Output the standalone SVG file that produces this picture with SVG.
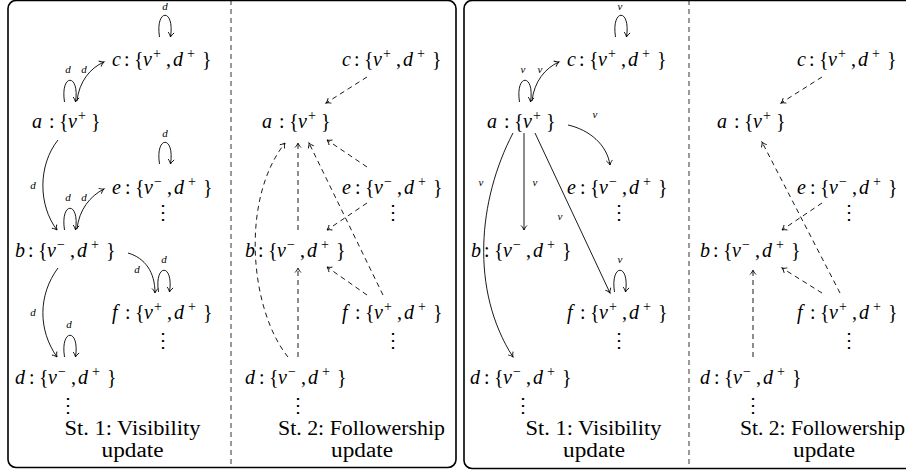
<svg xmlns="http://www.w3.org/2000/svg" width="906" height="474" viewBox="0 0 906 474" font-family="Liberation Serif, Times New Roman, serif">
<style>
.m{font-size:20px;fill:#000}
.i{font-style:italic}
.sp{font-size:14px}
.lbl{font-style:italic;font-size:11px;text-anchor:middle;fill:#000}
.cap{font-size:20px;text-anchor:middle;fill:#000}
.vd{font-size:20px;text-anchor:middle;fill:#000}
.e{fill:none;stroke:#000;stroke-width:0.9;marker-end:url(#arr)}
.dash{stroke-dasharray:5 4}
.frame{fill:none;stroke:#000;stroke-width:1.6}
.sep{stroke:#000;stroke-width:0.8;stroke-dasharray:5 4}
</style>
<defs>
<marker id="arr" viewBox="-6 -4 8 8" refX="0" refY="0" markerWidth="8" markerHeight="8" orient="auto" markerUnits="userSpaceOnUse">
<path d="M-4.5,-3 C-3,-1.5 -1,-0.3 0,0 C-1,0.3 -3,1.5 -4.5,3" fill="none" stroke="#000" stroke-width="0.9" stroke-dasharray="none"/>
</marker>
</defs>

<rect class="frame" x="8" y="0.5" width="448" height="467" rx="8"/>
<rect class="frame" x="464" y="0.5" width="470" height="468" rx="8"/>
<line class="sep" x1="231" y1="0" x2="231" y2="468"/>
<line class="sep" x1="689" y1="0" x2="689" y2="468"/>

<!-- Panel L1 -->
<g id="L1-c"><text class="m" y="66"><tspan class="i" x="112">c</tspan><tspan x="124">:</tspan><tspan x="134">{</tspan><tspan class="i" x="143">v</tspan><tspan class="sp" x="153" y="58">+</tspan><tspan x="166" y="66">,</tspan><tspan class="i" x="173">d</tspan><tspan class="sp" x="187" y="58">+</tspan><tspan x="202" y="66">}</tspan></text></g>
<g id="L1-a"><text class="m" y="128"><tspan class="i" x="32">a</tspan><tspan x="49">:</tspan><tspan x="59">{</tspan><tspan class="i" x="68">v</tspan><tspan class="sp" x="78" y="120">+</tspan><tspan x="91" y="128">}</tspan></text></g>
<g id="L1-e"><text class="m" y="194"><tspan class="i" x="112">e</tspan><tspan x="125">:</tspan><tspan x="135">{</tspan><tspan class="i" x="144">v</tspan><tspan class="sp" x="154" y="186">−</tspan><tspan x="167" y="194">,</tspan><tspan class="i" x="174">d</tspan><tspan class="sp" x="188" y="186">+</tspan><tspan x="203" y="194">}</tspan></text><text class="vd" x="163" y="219">⋮</text></g>
<g id="L1-b"><text class="m" y="257"><tspan class="i" x="15">b</tspan><tspan x="28">:</tspan><tspan x="38">{</tspan><tspan class="i" x="47">v</tspan><tspan class="sp" x="57" y="249">−</tspan><tspan x="70" y="257">,</tspan><tspan class="i" x="77">d</tspan><tspan class="sp" x="91" y="249">+</tspan><tspan x="106" y="257">}</tspan></text></g>
<g id="L1-f"><text class="m" y="319"><tspan class="i" x="112">f</tspan><tspan x="125">:</tspan><tspan x="135">{</tspan><tspan class="i" x="144">v</tspan><tspan class="sp" x="154" y="311">+</tspan><tspan x="167" y="319">,</tspan><tspan class="i" x="174">d</tspan><tspan class="sp" x="188" y="311">+</tspan><tspan x="203" y="319">}</tspan></text><text class="vd" x="163" y="347">⋮</text></g>
<g id="L1-d"><text class="m" y="384"><tspan class="i" x="15">d</tspan><tspan x="29">:</tspan><tspan x="39">{</tspan><tspan class="i" x="48">v</tspan><tspan class="sp" x="58" y="376">−</tspan><tspan x="71" y="384">,</tspan><tspan class="i" x="78">d</tspan><tspan class="sp" x="92" y="376">+</tspan><tspan x="107" y="384">}</tspan></text><text class="vd" x="68" y="412">⋮</text></g>
<g id="L1-caption"><text class="cap" x="132.5" y="435" textLength="136" lengthAdjust="spacingAndGlyphs">St. 1: Visibility</text><text class="cap" x="132.5" y="457" textLength="62" lengthAdjust="spacingAndGlyphs">update</text></g>

<!-- Panel L2 -->
<g id="L2-c"><text class="m" y="66"><tspan class="i" x="342">c</tspan><tspan x="354">:</tspan><tspan x="364">{</tspan><tspan class="i" x="373">v</tspan><tspan class="sp" x="383" y="58">+</tspan><tspan x="396" y="66">,</tspan><tspan class="i" x="403">d</tspan><tspan class="sp" x="417" y="58">+</tspan><tspan x="432" y="66">}</tspan></text></g>
<g id="L2-a"><text class="m" y="128"><tspan class="i" x="262">a</tspan><tspan x="279">:</tspan><tspan x="289">{</tspan><tspan class="i" x="298">v</tspan><tspan class="sp" x="308" y="120">+</tspan><tspan x="321" y="128">}</tspan></text></g>
<g id="L2-e"><text class="m" y="194"><tspan class="i" x="342">e</tspan><tspan x="355">:</tspan><tspan x="365">{</tspan><tspan class="i" x="374">v</tspan><tspan class="sp" x="384" y="186">−</tspan><tspan x="397" y="194">,</tspan><tspan class="i" x="404">d</tspan><tspan class="sp" x="418" y="186">+</tspan><tspan x="433" y="194">}</tspan></text><text class="vd" x="393" y="219">⋮</text></g>
<g id="L2-b"><text class="m" y="257"><tspan class="i" x="245">b</tspan><tspan x="258">:</tspan><tspan x="268">{</tspan><tspan class="i" x="277">v</tspan><tspan class="sp" x="287" y="249">−</tspan><tspan x="300" y="257">,</tspan><tspan class="i" x="307">d</tspan><tspan class="sp" x="321" y="249">+</tspan><tspan x="336" y="257">}</tspan></text></g>
<g id="L2-f"><text class="m" y="319"><tspan class="i" x="342">f</tspan><tspan x="355">:</tspan><tspan x="365">{</tspan><tspan class="i" x="374">v</tspan><tspan class="sp" x="384" y="311">+</tspan><tspan x="397" y="319">,</tspan><tspan class="i" x="404">d</tspan><tspan class="sp" x="418" y="311">+</tspan><tspan x="433" y="319">}</tspan></text><text class="vd" x="393" y="347">⋮</text></g>
<g id="L2-d"><text class="m" y="384"><tspan class="i" x="245">d</tspan><tspan x="259">:</tspan><tspan x="269">{</tspan><tspan class="i" x="278">v</tspan><tspan class="sp" x="288" y="376">−</tspan><tspan x="301" y="384">,</tspan><tspan class="i" x="308">d</tspan><tspan class="sp" x="322" y="376">+</tspan><tspan x="337" y="384">}</tspan></text><text class="vd" x="298" y="412">⋮</text></g>
<g id="L2-caption"><text class="cap" x="361.5" y="435" textLength="167" lengthAdjust="spacingAndGlyphs">St. 2: Followership</text><text class="cap" x="362" y="457" textLength="62" lengthAdjust="spacingAndGlyphs">update</text></g>

<!-- Panel R1 -->
<g id="R1-c"><text class="m" y="66"><tspan class="i" x="567">c</tspan><tspan x="579">:</tspan><tspan x="589">{</tspan><tspan class="i" x="598">v</tspan><tspan class="sp" x="608" y="58">+</tspan><tspan x="621" y="66">,</tspan><tspan class="i" x="628">d</tspan><tspan class="sp" x="642" y="58">+</tspan><tspan x="657" y="66">}</tspan></text></g>
<g id="R1-a"><text class="m" y="128"><tspan class="i" x="487">a</tspan><tspan x="504">:</tspan><tspan x="514">{</tspan><tspan class="i" x="523">v</tspan><tspan class="sp" x="533" y="120">+</tspan><tspan x="546" y="128">}</tspan></text></g>
<g id="R1-e"><text class="m" y="194"><tspan class="i" x="567">e</tspan><tspan x="580">:</tspan><tspan x="590">{</tspan><tspan class="i" x="599">v</tspan><tspan class="sp" x="609" y="186">−</tspan><tspan x="622" y="194">,</tspan><tspan class="i" x="629">d</tspan><tspan class="sp" x="643" y="186">+</tspan><tspan x="658" y="194">}</tspan></text><text class="vd" x="619" y="219">⋮</text></g>
<g id="R1-b"><text class="m" y="257"><tspan class="i" x="471">b</tspan><tspan x="484">:</tspan><tspan x="494">{</tspan><tspan class="i" x="503">v</tspan><tspan class="sp" x="513" y="249">−</tspan><tspan x="526" y="257">,</tspan><tspan class="i" x="533">d</tspan><tspan class="sp" x="547" y="249">+</tspan><tspan x="562" y="257">}</tspan></text></g>
<g id="R1-f"><text class="m" y="319"><tspan class="i" x="567">f</tspan><tspan x="580">:</tspan><tspan x="590">{</tspan><tspan class="i" x="599">v</tspan><tspan class="sp" x="609" y="311">+</tspan><tspan x="622" y="319">,</tspan><tspan class="i" x="629">d</tspan><tspan class="sp" x="643" y="311">+</tspan><tspan x="658" y="319">}</tspan></text><text class="vd" x="619" y="347">⋮</text></g>
<g id="R1-d"><text class="m" y="384"><tspan class="i" x="470">d</tspan><tspan x="484">:</tspan><tspan x="494">{</tspan><tspan class="i" x="503">v</tspan><tspan class="sp" x="513" y="376">−</tspan><tspan x="526" y="384">,</tspan><tspan class="i" x="533">d</tspan><tspan class="sp" x="547" y="376">+</tspan><tspan x="562" y="384">}</tspan></text><text class="vd" x="523" y="412">⋮</text></g>
<g id="R1-caption"><text class="cap" x="593.5" y="435" textLength="136" lengthAdjust="spacingAndGlyphs">St. 1: Visibility</text><text class="cap" x="594" y="457" textLength="62" lengthAdjust="spacingAndGlyphs">update</text></g>

<!-- Panel R2 -->
<g id="R2-c"><text class="m" y="66"><tspan class="i" x="797">c</tspan><tspan x="809">:</tspan><tspan x="819">{</tspan><tspan class="i" x="828">v</tspan><tspan class="sp" x="838" y="58">+</tspan><tspan x="851" y="66">,</tspan><tspan class="i" x="858">d</tspan><tspan class="sp" x="872" y="58">+</tspan><tspan x="887" y="66">}</tspan></text></g>
<g id="R2-a"><text class="m" y="128"><tspan class="i" x="717">a</tspan><tspan x="734">:</tspan><tspan x="744">{</tspan><tspan class="i" x="753">v</tspan><tspan class="sp" x="763" y="120">+</tspan><tspan x="776" y="128">}</tspan></text></g>
<g id="R2-e"><text class="m" y="194"><tspan class="i" x="797">e</tspan><tspan x="810">:</tspan><tspan x="820">{</tspan><tspan class="i" x="829">v</tspan><tspan class="sp" x="839" y="186">−</tspan><tspan x="852" y="194">,</tspan><tspan class="i" x="859">d</tspan><tspan class="sp" x="873" y="186">+</tspan><tspan x="888" y="194">}</tspan></text><text class="vd" x="849" y="219">⋮</text></g>
<g id="R2-b"><text class="m" y="257"><tspan class="i" x="700">b</tspan><tspan x="713">:</tspan><tspan x="723">{</tspan><tspan class="i" x="732">v</tspan><tspan class="sp" x="742" y="249">−</tspan><tspan x="755" y="257">,</tspan><tspan class="i" x="762">d</tspan><tspan class="sp" x="776" y="249">+</tspan><tspan x="791" y="257">}</tspan></text></g>
<g id="R2-f"><text class="m" y="319"><tspan class="i" x="797">f</tspan><tspan x="810">:</tspan><tspan x="820">{</tspan><tspan class="i" x="829">v</tspan><tspan class="sp" x="839" y="311">+</tspan><tspan x="852" y="319">,</tspan><tspan class="i" x="859">d</tspan><tspan class="sp" x="873" y="311">+</tspan><tspan x="888" y="319">}</tspan></text><text class="vd" x="849" y="347">⋮</text></g>
<g id="R2-d"><text class="m" y="384"><tspan class="i" x="700">d</tspan><tspan x="714">:</tspan><tspan x="724">{</tspan><tspan class="i" x="733">v</tspan><tspan class="sp" x="743" y="376">−</tspan><tspan x="756" y="384">,</tspan><tspan class="i" x="763">d</tspan><tspan class="sp" x="777" y="376">+</tspan><tspan x="792" y="384">}</tspan></text><text class="vd" x="753" y="412">⋮</text></g>
<g id="R2-caption"><text class="cap" x="822.5" y="435" textLength="165" lengthAdjust="spacingAndGlyphs">St. 2: Followership</text><text class="cap" x="824" y="457" textLength="62" lengthAdjust="spacingAndGlyphs">update</text></g>

<g id="connectors">
<!-- L1 -->
<path class="e" d="M159.5 37 C155 8 175 8 170.5 37"/>
<path class="e" d="M64.5 102 C60 73 80 73 75.5 102"/>
<path class="e" d="M159.5 164 C155 135 175 135 170.5 164"/>
<path class="e" d="M64.5 230 C60 201 80 201 75.5 230"/>
<path class="e" d="M158.5 292 C154 263 174 263 169.5 292"/>
<path class="e" d="M64.5 357 C60 328 80 328 75.5 357"/>
<path class="e" d="M77 101 C79 82 90 68 104 62"/>
<path class="e" d="M77 229 C79 210 90 196 104 189"/>
<path class="e" d="M58 140 C38 165 38 205 57 230"/>
<path class="e" d="M58 268 C38 295 38 330 57 357"/>
<path class="e" d="M128 253 C145 258 155 272 155 293"/>
<text class="lbl" x="165" y="10">d</text>
<text class="lbl" x="68" y="73">d</text>
<text class="lbl" x="84" y="73">d</text>
<text class="lbl" x="165" y="137">d</text>
<text class="lbl" x="68" y="201">d</text>
<text class="lbl" x="84" y="201">d</text>
<text class="lbl" x="33" y="189">d</text>
<text class="lbl" x="164" y="263">d</text>
<text class="lbl" x="137" y="273">d</text>
<text class="lbl" x="33" y="316">d</text>
<text class="lbl" x="69" y="328">d</text>
<!-- L2 -->
<path class="e dash" d="M367 77 L326 103"/>
<path class="e dash" d="M367 167 L327 140"/>
<path class="e dash" d="M298 230 L298 143"/>
<path class="e dash" d="M383 295 L309 143"/>
<path class="e dash" d="M367 203 L327 230"/>
<path class="e dash" d="M367 295 L327 267"/>
<path class="e dash" d="M298 357 L298 268"/>
<path class="e dash" d="M288 357 C250 310 240 200 285 143"/>
<!-- R1 -->
<path class="e" d="M615.5 37 C611 8 631 8 626.5 37"/>
<path class="e" d="M519.5 102 C515 73 535 73 530.5 102"/>
<path class="e" d="M614.5 292 C610 263 630 263 625.5 292"/>
<path class="e" d="M532 101 C534 82 545 68 559 62"/>
<path class="e" d="M568 125 C590 130 607 145 610 165"/>
<path class="e" d="M524 133 L524 230"/>
<path class="e" d="M513 133 C478 200 470 290 513 357"/>
<path class="e" d="M535 133 L610 293"/>
<text class="lbl" x="620" y="10">v</text>
<text class="lbl" x="523" y="73">v</text>
<text class="lbl" x="540" y="73">v</text>
<text class="lbl" x="595" y="118">v</text>
<text class="lbl" x="535" y="186">v</text>
<text class="lbl" x="481" y="186">v</text>
<text class="lbl" x="560" y="220">v</text>
<text class="lbl" x="620" y="263">v</text>
<!-- R2 -->
<path class="e dash" d="M822 77 L781 103"/>
<path class="e dash" d="M840 293 L762 142"/>
<path class="e dash" d="M822 203 L782 230"/>
<path class="e dash" d="M822 293 L782 268"/>
<path class="e dash" d="M753 357 L753 270"/>
</g>
</svg>
